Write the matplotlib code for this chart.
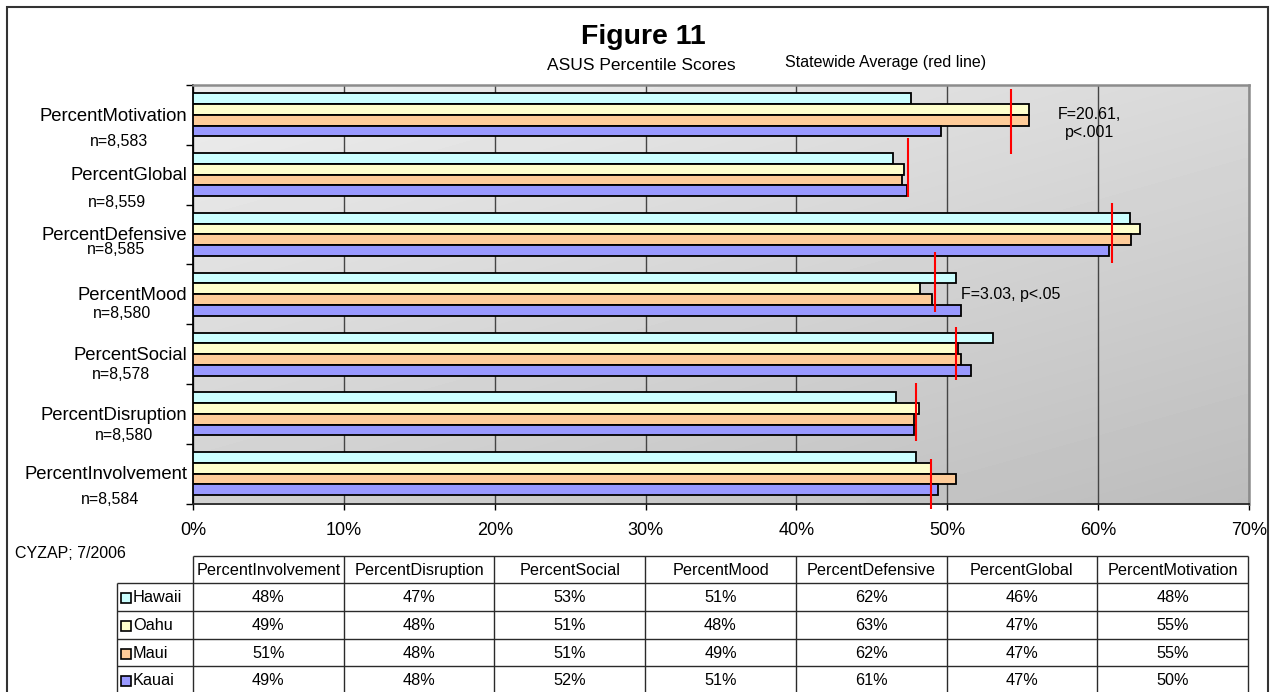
import numpy as np
import matplotlib
matplotlib.use("Agg")
import matplotlib.pyplot as plt
from matplotlib.patches import Rectangle
from matplotlib.transforms import blended_transform_factory

plt.rcParams['font.family'] = ['Liberation Sans', 'DejaVu Sans']

# ---------------- data ----------------
categories = ["PercentInvolvement", "PercentDisruption", "PercentSocial", "PercentMood",
              "PercentDefensive", "PercentGlobal", "PercentMotivation"]
n_labels = ["n=8,584", "n=8,580", "n=8,578", "n=8,580", "n=8,585", "n=8,559", "n=8,583"]
regions = ["Hawaii", "Oahu", "Maui", "Kauai"]
hawaii = [47.9, 46.6, 53.0, 50.6, 62.1, 46.4, 47.6]
oahu = [48.9, 48.1, 50.7, 48.2, 62.8, 47.1, 55.4]
maui = [50.6, 47.8, 50.9, 49.0, 62.2, 47.0, 55.4]
kauai = [49.4, 47.8, 51.6, 50.9, 60.7, 47.3, 49.6]
statewide = [48.9, 47.9, 50.6, 49.2, 60.9, 47.4, 54.2]
xticks = [0, 10, 20, 30, 40, 50, 60, 70]
xtick_labels = ["0%", "10%", "20%", "30%", "40%", "50%", "60%", "70%"]
title = "Figure 11"
subtitle = "ASUS Percentile Scores"
legend_note = "Statewide Average (red line)"
note_motivation = ["F=20.61,", "p<.001"]
note_mood = "F=3.03, p<.05"
source = "CYZAP; 7/2006"

series = [hawaii, oahu, maui, kauai]
colors = ["#CCFFFF", "#FFFFCC", "#FFCC99", "#9999FF"]

# ---------------- layout (styles / positions) ----------------
W, H = 1275, 692
def fx(px): return px / W
def fy(py): return 1 - py / H

fig = plt.figure(figsize=(W / 100, H / 100), dpi=100)
fig.patch.set_facecolor("white")

# outer frame
fig.patches.append(Rectangle((fx(7), fy(720)), fx(1268) - fx(7), fy(7) - fy(720),
                             transform=fig.transFigure, fill=False, edgecolor="#333333",
                             linewidth=1.5, clip_on=False))

ax_l, ax_r, ax_t, ax_b = 193, 1249, 85, 503.5
ax = fig.add_axes([fx(ax_l), fy(ax_b), fx(ax_r) - fx(ax_l), fy(ax_t) - fy(ax_b)])

# gradient background (light top-left -> darker bottom-right)
gx = np.linspace(0, 1, 200)
gy = np.linspace(0, 1, 100)
GX, GY = np.meshgrid(gx, gy)
grad = (237 - 20 * GX - 28 * GY) / 255.0
ax.imshow(grad, extent=[0, 70, -0.5, 6.5], origin="upper", aspect="auto", cmap="gray",
          vmin=0, vmax=1, zorder=0, interpolation="bilinear")
ax.set_xlim(0, 70)
ax.set_ylim(-0.5, 6.5)

ypos = np.arange(len(categories))
bar_h = 0.18
offsets = [1.5 * bar_h, 0.5 * bar_h, -0.5 * bar_h, -1.5 * bar_h]
for vals, col, off, name in zip(series, colors, offsets, regions):
    ax.barh(ypos + off, vals, height=bar_h, color=col, edgecolor="black",
            linewidth=1.3, zorder=3, label=name)

# statewide average red lines (hand-placed vertical extents relative to group centre)
red_span = [(-0.60, 0.25), (-0.45, 0.51), (-0.43, 0.46), (-0.29, 0.70),
            (-0.47, 0.52), (-0.38, 0.62), (-0.65, 0.44)]
for k, (avg, (lo, hi)) in enumerate(zip(statewide, red_span)):
    ax.plot([avg, avg], [k + lo, k + hi], color="red", linewidth=1.5, zorder=5,
            clip_on=False, solid_capstyle="butt")

ax.set_xticks(xticks)
ax.set_xticklabels(xtick_labels, fontsize=13)
ax.set_yticks(np.arange(-0.5, 7, 1))
ax.set_yticklabels([])
ax.tick_params(axis="x", direction="out", length=4, width=1, pad=9, colors="black")
ax.tick_params(axis="y", direction="out", length=5, width=1)
ax.set_axisbelow(True)
ax.xaxis.grid(True, color="#454545", linewidth=1.0, zorder=0.5)
for s in ["top", "right"]:
    ax.spines[s].set_color("#8c8c8c")
    ax.spines[s].set_linewidth(1.8)
ax.spines["left"].set_color("black")
ax.spines["left"].set_linewidth(1.3)
ax.spines["bottom"].set_color("#222222")
ax.spines["bottom"].set_linewidth(1.3)

# category labels and n labels
trans = blended_transform_factory(ax.transAxes, ax.transData)
axw = ax_r - ax_l
n_dy = [-0.44, -0.36, -0.34, -0.33, -0.25, -0.46, -0.44]
n_x = [110, 124, 121, 122, 116, 117, 119]
for k, (cat, nl) in enumerate(zip(categories, n_labels)):
    ax.text(-6 / axw, k - 0.02, cat, transform=trans, ha="right", va="center", fontsize=13.3)
    ax.text((n_x[k] - ax_l) / axw, k + n_dy[k], nl, transform=trans, ha="center",
            va="center", fontsize=11.5)

# annotations
ax.text(59.4, 6.0, note_motivation[0], ha="center", va="center", fontsize=11.5, zorder=6)
ax.text(59.4, 5.71, note_motivation[1], ha="center", va="center", fontsize=11.5, zorder=6)
ax.text(50.9, 3.0, note_mood, ha="left", va="center", fontsize=11.5, zorder=6)

# titles
fig.text(fx(643), fy(37), title, ha="center", va="center", fontsize=20.5, fontweight="bold")
fig.text(fx(641), fy(66), subtitle, ha="center", va="center", fontsize=12.5)
fig.text(fx(886), fy(62), legend_note, ha="center", va="center", fontsize=11.5)
fig.text(fx(15), fy(554), source, ha="left", va="center", fontsize=11.5)

# ---------------- data table (drawn in a pixel-unit axes) ----------------
tb_l, tb_r, tb_t, tb_b = 117, 1248, 556, 693
lab_l, lab_r = 117, 193
tax = fig.add_axes([fx(tb_l), fy(tb_b), fx(tb_r) - fx(tb_l), fy(tb_t) - fy(tb_b)])
tax.set_xlim(tb_l, tb_r)
tax.set_ylim(tb_b, tb_t)
tax.set_axis_off()
row_edges = [556, 583, 611, 639, 666, 693]
ncol = len(categories)
col_edges = np.linspace(lab_r, tb_r, ncol + 1)
lc = "#2a2a2a"
tax.hlines(row_edges[0], lab_r, tb_r, color=lc, lw=1.0, clip_on=False)
tax.hlines(row_edges[1:], lab_l, tb_r, color=lc, lw=1.0, clip_on=False)
tax.vlines(lab_l, row_edges[1], row_edges[-1], color=lc, lw=1.0, clip_on=False)
tax.vlines(col_edges, row_edges[0], row_edges[-1], color=lc, lw=1.0, clip_on=False)

fs_t = 11.7
for j, cat in enumerate(categories):
    cx = (col_edges[j] + col_edges[j + 1]) / 2
    tax.text(cx, (row_edges[0] + row_edges[1]) / 2 + 1, cat, ha="center", va="center",
             fontsize=fs_t)
for i, (name, vals, col) in enumerate(zip(regions, series, colors), start=1):
    cy = (row_edges[i] + row_edges[i + 1]) / 2 + 1
    tax.add_patch(Rectangle((120.7, cy - 5), 10, 10, facecolor=col, edgecolor="black",
                            linewidth=1.2, clip_on=False))
    tax.text(133, cy, name, ha="left", va="center", fontsize=fs_t)
    for j, v in enumerate(vals):
        cx = (col_edges[j] + col_edges[j + 1]) / 2
        tax.text(cx, cy, f"{round(v)}%", ha="center", va="center", fontsize=fs_t)

fig.savefig("out.png", dpi=100)
